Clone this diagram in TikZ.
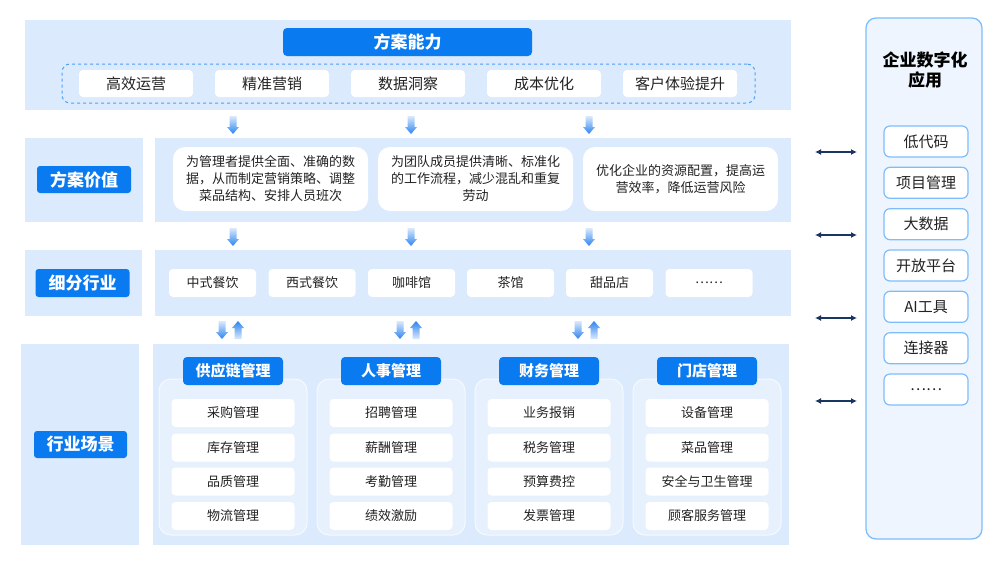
\documentclass[tikz,border=0pt]{standalone}
\usepackage{fontspec}
\setmainfont{Noto Sans CJK SC}
\usetikzlibrary{arrows.meta}
\definecolor{panel}{RGB}{219,234,252}
\definecolor{mainblue}{RGB}{10,122,240}
\definecolor{grpfill}{RGB}{230,241,253}
\definecolor{grpborder}{RGB}{246,250,255}
\definecolor{rfill}{RGB}{238,245,254}
\definecolor{rborder}{RGB}{125,190,250}
\definecolor{dashblue}{RGB}{80,160,245}
\definecolor{navy}{RGB}{26,53,96}
\definecolor{arrlight}{RGB}{218,234,252}
\definecolor{arrdark}{RGB}{45,132,240}
\definecolor{txt}{RGB}{34,34,34}
\tikzset{
  panelbox/.style={fill=panel, inner sep=0pt},
  bluelabel/.style={fill=mainblue, rounded corners=3pt, text=white, font=\fontsize{17}{20}\selectfont\bfseries, inner sep=0pt, minimum width=94pt, minimum height=27pt},
  pillbox/.style={fill=white, rounded corners=4pt, text=txt, inner sep=0pt, minimum height=27pt},
  cardbox/.style={fill=white, rounded corners=12pt, text=txt, align=center, inner sep=0pt, minimum width=195pt, minimum height=64pt, font=\fontsize{13}{17}\selectfont},
  grpbox/.style={fill=grpfill, draw=grpborder, line width=1pt, rounded corners=12pt, minimum width=148pt, minimum height=156pt, inner sep=0pt},
  grphead/.style={fill=mainblue, rounded corners=4pt, text=white, font=\fontsize{15}{18}\selectfont\bfseries, minimum width=100pt, minimum height=28pt, inner sep=0pt},
  grpitem/.style={fill=white, rounded corners=4pt, text=txt, font=\fontsize{13}{16}\selectfont, minimum width=123pt, minimum height=28pt, inner sep=0pt},
  rightitem/.style={fill=white, draw=rborder, line width=1.2pt, rounded corners=6pt, text=txt, font=\fontsize{15}{18}\selectfont, minimum width=84pt, minimum height=31pt, inner sep=0pt},
  linkarrow/.style={navy, line width=1.6pt, {Latex[length=6pt,width=6pt]}-{Latex[length=6pt,width=6pt]}},
  gdown/.pic={\shade[top color=arrlight, bottom color=arrdark] (-3.5,0) -- (3.5,0) -- (3.5,11) -- (6,11) -- (0,18) -- (-6,11) -- (-3.5,11) -- cycle;},
  gup/.pic={\shade[top color=arrdark, bottom color=arrlight] (-3.5,18) -- (3.5,18) -- (3.5,7) -- (6,7) -- (0,0) -- (-6,7) -- (-3.5,7) -- cycle;}
}
\begin{document}
\begin{tikzpicture}[x=1pt,y=-1pt]
\useasboundingbox[fill=white] (0,0) rectangle (1000,565);

% ---------- top: 方案能力 ----------
\node[panelbox, minimum width=766pt, minimum height=90pt] (captop) at (408,65) {};
\node[bluelabel, rounded corners=4pt, minimum width=249pt, minimum height=28pt] (caphead) at (407.5,42) {方案能力};
\node[draw=dashblue, dashed, line width=1pt, rounded corners=8pt, minimum width=693pt, minimum height=39pt, inner sep=0pt] (capdash) at (408.5,83.5) {};
\foreach \n/\x/\t in {c1/136/高效运营, c2/272/精准营销, c3/408/数据洞察, c4/544/成本优化, c5/680/客户体验提升}
  \node[pillbox, minimum width=114pt, font=\fontsize{15}{18}\selectfont] (\n) at (\x,83.5) {\t};

% ---------- 方案价值 ----------
\node[panelbox, minimum width=118pt, minimum height=84pt] (valleft) at (84,180) {};
\node[panelbox, minimum width=636pt, minimum height=84pt] (valright) at (473,180) {};
\node[bluelabel] (vallabel) at (84,179.5) {方案价值};
\node[cardbox] (v1) at (270.5,179) {为管理者提供全面、准确的数\\据，从而制定营销策略、调整\\菜品结构、安排人员班次};
\node[cardbox] (v2) at (475.5,179) {为团队成员提供清晰、标准化\\的工作流程，减少混乱和重复\\劳动};
\node[cardbox] (v3) at (680.5,179) {优化企业的资源配置，提高运\\营效率，降低运营风险};

% ---------- 细分行业 ----------
\node[panelbox, minimum width=117pt, minimum height=66pt] (indleft) at (83,283) {};
\node[panelbox, minimum width=636pt, minimum height=66pt] (indright) at (472.5,283) {};
\node[bluelabel, minimum height=28pt] (indlabel) at (82.5,283) {细分行业};
\foreach \n/\x/\t in {i1/212.5/中式餐饮, i2/312/西式餐饮, i3/411.5/咖啡馆, i4/510.5/茶馆, i5/609.5/甜品店, i6/709/……}
  \node[pillbox, minimum width=87pt, minimum height=28pt, font=\fontsize{13}{16}\selectfont] (\n) at (\x,283) {\t};

% ---------- 行业场景 ----------
\node[panelbox, minimum width=118pt, minimum height=201pt] (scnleft) at (80,444.5) {};
\node[panelbox, minimum width=636pt, minimum height=201pt] (scnright) at (471,444.5) {};
\node[bluelabel, minimum width=93pt] (scnlabel) at (80.5,444.5) {行业场景};

\foreach \g/\x/\h/\a/\b/\c/\d in {
  g1/233/供应链管理/采购管理/库存管理/品质管理/物流管理,
  g2/391/人事管理/招聘管理/薪酬管理/考勤管理/绩效激励,
  g3/549/财务管理/业务报销/税务管理/预算费控/发票管理,
  g4/707/门店管理/设备管理/菜品管理/安全与卫生管理/顾客服务管理}{
  \node[grpbox] (\g box) at (\x,457) {};
  \node[grphead] (\g head) at (\x,371) {\h};
  \node[grpitem] (\g a) at (\x,413) {\a};
  \node[grpitem] (\g b) at (\x,447.5) {\b};
  \node[grpitem] (\g c) at (\x,481.5) {\c};
  \node[grpitem] (\g d) at (\x,516) {\d};
}

% ---------- gradient arrows ----------
\foreach \x in {233,411,589} {
  \pic at (\x,116) {gdown};
  \pic at (\x,228) {gdown};
}
\foreach \x in {222,400,578} {
  \pic at (\x,321) {gdown};
  \pic at (\x+16,321) {gup};
}

% ---------- right panel ----------
\node[fill=rfill, draw=rborder, line width=1.3pt, rounded corners=10pt, minimum width=116pt, minimum height=521pt, inner sep=0pt] (rpanel) at (924,278.5) {};
\node[font=\fontsize{17}{20}\selectfont\bfseries, align=center, text=black] (rtitle) at (925,70) {企业数字化\\应用};
\foreach \n/\y/\t in {r1/141.5/低代码, r2/182.8/项目管理, r3/224.2/大数据, r4/265.5/开放平台, r5/306.8/AI工具, r6/348.2/连接器, r7/389.5/……}
  \node[rightitem] (\n) at (926,\y) {\t};

% ---------- link arrows ----------
\foreach \k/\y in {1/152,2/235,3/318,4/401} {
  \coordinate (la\k) at (815,\y);
  \coordinate (lb\k) at (857,\y);
  \draw[linkarrow] (la\k) -- (lb\k);
}
\end{tikzpicture}
\end{document}
